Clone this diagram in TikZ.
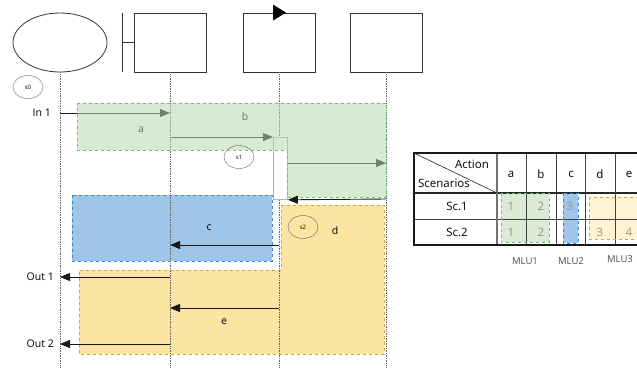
\documentclass[tikz,border=0pt]{standalone}
\usepackage{fontspec}
\setmainfont{Open Sans}
\usetikzlibrary{arrows.meta,shapes.geometric}
\definecolor{gfill}{RGB}{186,217,175}
\definecolor{gline}{RGB}{95,200,125}
\definecolor{bfill}{RGB}{159,197,232}
\definecolor{bline}{RGB}{55,140,210}
\definecolor{yfill}{RGB}{252,229,162}
\definecolor{yline}{RGB}{215,165,50}
\definecolor{ylight}{RGB}{255,243,210}
\definecolor{tgfill}{RGB}{219,234,211}
\definecolor{actbox}{RGB}{160,180,195}
\definecolor{numgray}{RGB}{150,150,135}
\begin{document}
\begin{tikzpicture}[x=1pt,y=-1pt,
  lifehead/.style={draw=black!80,line width=0.8pt,minimum width=72pt,minimum height=59pt,inner sep=0pt},
  lifeline/.style={densely dotted,black!60,line width=0.7pt},
  statenode/.style={ellipse,draw=black!60,line width=0.4pt,minimum width=30pt,minimum height=23pt,inner sep=0pt,font=\fontsize{6}{7}\selectfont},
  msg/.style={-{Triangle[length=10pt,width=8pt]},line width=0.9pt,black!90},
  lbl/.style={font=\fontsize{10.5}{12}\selectfont,inner sep=1pt},
  tline/.style={black!75,line width=0.8pt},
  tnum/.style={font=\fontsize{11.5}{13}\selectfont,text=numgray,inner sep=0pt},
  ttext/.style={font=\fontsize{11.5}{13}\selectfont,inner sep=0pt},
  mlu/.style={font=\fontsize{9.5}{11}\selectfont,text=black!70,inner sep=0pt}]
\useasboundingbox (0,0) rectangle (637,368);
\clip (0,0) rectangle (637,368);

% lifeline heads
\node[lifehead,ellipse,minimum width=94pt,minimum height=59pt] (actor) at (60,42.5) {};
\node[lifehead] (bnd) at (170,42.5) {};
\node[lifehead] (ctl) at (279,42.5) {};
\node[lifehead] (ent) at (386,42.5) {};
\draw[black!80,line width=0.8pt] ([xshift=-11pt]bnd.north west) -- ([xshift=-11pt]bnd.south west);
\draw[black!80,line width=0.8pt] (bnd.west) -- ([xshift=-11pt]bnd.west);
\fill (ctl.north) ++(-6,-8) -- ++(0,16) -- ++(13,-8) -- cycle;

% bottom coordinates of lifelines
\coordinate (l0) at (60,368);
\coordinate (l1) at (170,368);
\coordinate (l2) at (279,368);
\coordinate (l3) at (386,368);

% yellow and blue regions
\fill[yfill] (281,205) -- (384,205) -- (384,354) -- (79,354) -- (79,270) -- (281,270) -- cycle;
\draw[yline,dashed,line width=0.9pt] (281,205) -- (384,205) -- (384,354) -- (79,354) -- (79,270) -- (281,270) -- cycle;
\fill[bfill] (72,195) rectangle (272,261);
\draw[bline,dashed,line width=0.9pt] (72,195) rectangle (272,261);

% lifelines
\draw[lifeline] (actor.south) -- (l0);
\draw[lifeline] (bnd.south) -- (l1);
\draw[lifeline] (ctl.south) -- (l2);
\draw[lifeline] (ent.south) -- (l3);

% activation box
\node[draw=actbox,fill=white,line width=0.8pt,minimum width=14pt,minimum height=62pt,inner sep=0pt,anchor=north west] (act) at (273,137) {};

% message endpoints
\coordinate (m0a) at (60,113);   \coordinate (m0b) at (170,113);
\coordinate (m1a) at (170,137);  \coordinate (m1b) at (act.north west);
\coordinate (m2a) at (287,163);  \coordinate (m2b) at (386,163);
\coordinate (m3a) at (386,199);  \coordinate (m3b) at (act.south east);
\coordinate (m4a) at (279,245);  \coordinate (m4b) at (170,245);
\coordinate (m5a) at (170,277);  \coordinate (m5b) at (60,277);
\coordinate (m6a) at (279,308);  \coordinate (m6b) at (170,308);
\coordinate (m7a) at (170,344);  \coordinate (m7b) at (60,344);

\draw[msg] (m0a) -- (m0b);
\draw[msg] (m1a) -- (m1b);
\draw[msg] (m2a) -- (m2b);
\node[lbl] (la) at (141,130) {a};
\node[lbl] (lb) at (245,117) {b};

% green overlay
\fill[gfill,fill opacity=0.55] (77,103) -- (386,103) -- (386,197) -- (287,197) -- (287,150) -- (77,150) -- cycle;
\draw[gline,dashed,line width=0.9pt] (77,103) -- (386,103) -- (386,197) -- (287,197) -- (287,150) -- (77,150) -- cycle;

\draw[msg] (m3a) -- (m3b);
\draw[msg] (m4a) -- (m4b);
\draw[msg] (m5a) -- (m5b);
\draw[msg] (m6a) -- (m6b);
\draw[msg] (m7a) -- (m7b);

% labels
\node[lbl,anchor=east] (tin1) at (52,113) {In 1};
\node[lbl,anchor=east] (tout1) at (55,277) {Out 1};
\node[lbl,anchor=east] (tout2) at (55,344) {Out 2};
\node[lbl] (lc) at (209,228) {c};
\node[lbl] (ld) at (335,231) {d};
\node[lbl] (le) at (224,322) {e};
\node[statenode] (s0) at (28,87) {s0};
\node[statenode] (s1) at (239,157) {s1};
\node[statenode] (s2) at (303,227) {s2};

% table
\fill[tgfill] (501,193) rectangle (549,242);
\fill[bfill] (563,193) rectangle (578,243);
\fill[ylight] (589,197) rectangle (650,239);
\draw[tline] (414,219) -- (650,219);
\draw[black!85,line width=1.3pt] (414,193) -- (650,193);
\draw[black!55,line width=1.2pt] (497,153) -- (497,245);
\foreach \cx in {526,556,585,615} \draw[tline] (\cx,153) -- (\cx,245);
\draw[black!85,line width=0.6pt] (414,153) -- (497,193);
\draw[black!90,line width=2.2pt] (650,153) -- (414,153) -- (414,245) -- (650,245);
\draw[gline,dashed,line width=0.9pt] (501,193) rectangle (549,242);
\draw[bline,dashed,line width=0.9pt] (563,193) rectangle (578,243);
\draw[yline,dashed,line width=0.9pt] (589,197) rectangle (650,239);
\node[ttext] (hact) at (472,164) {Action};
\node[ttext] (hsc) at (444,183) {Scenarios};
\node[ttext] (ca) at (511,174) {a};
\node[ttext] (cb) at (541,174) {b};
\node[ttext] (cc) at (571,174) {c};
\node[ttext] (cd) at (600,174) {d};
\node[ttext] (ce) at (629,174) {e};
\node[ttext] (r1) at (457,206) {Sc.1};
\node[ttext] (r2) at (457,232) {Sc.2};
\node[tnum] (n11) at (511,206) {1};
\node[tnum] (n12) at (541,206) {2};
\node[tnum] (n13) at (570,206) {3};
\node[tnum] (n21) at (511,232) {1};
\node[tnum] (n22) at (541,232) {2};
\node[tnum] (n23) at (600,232) {3};
\node[tnum] (n24) at (629,232) {4};
\node[mlu] (mlu1) at (525,261) {MLU1};
\node[mlu] (mlu2) at (571,261) {MLU2};
\node[mlu] (mlu3) at (620,259) {MLU3};
\end{tikzpicture}
\end{document}
